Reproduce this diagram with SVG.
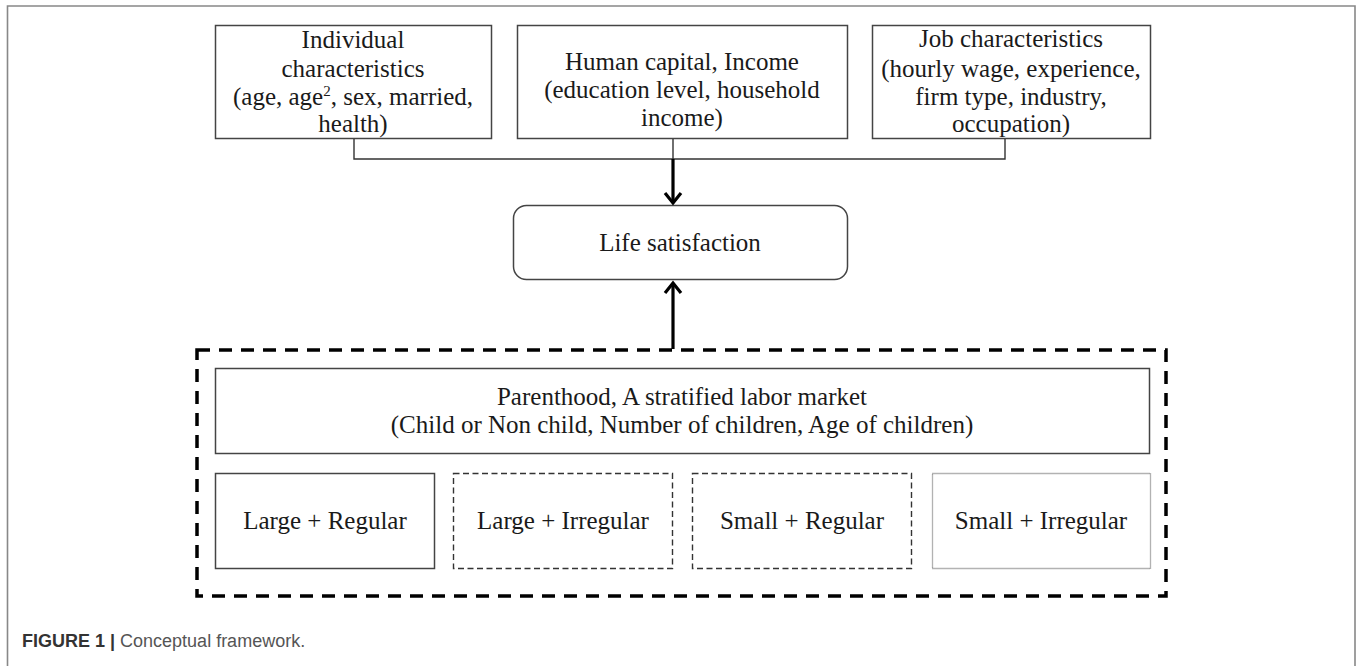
<svg xmlns="http://www.w3.org/2000/svg" width="1357" height="666" viewBox="0 0 1357 666">
<style>
.box{fill:#fff;stroke:#444;stroke-width:1.5}
.dash{fill:#fff;stroke:#333;stroke-width:1.4;stroke-dasharray:6 3.5}
.dot{fill:#fff;stroke:#666;stroke-width:1.3;stroke-dasharray:1 1}
.t{font-family:"Liberation Serif","Times New Roman",serif;font-size:25px;fill:#1a1a1a;text-anchor:middle}
.thin{fill:none;stroke:#333;stroke-width:1.4}
.thick{fill:none;stroke:#000;stroke-width:3.2}
.cap{font-family:"Liberation Sans",Arial,sans-serif;font-size:18px}
</style>
<path d="M7.5,666 V6 H1355 V666" fill="none" stroke="#888" stroke-width="1.6"/>

<g id="individual">
<rect class="box" x="215.5" y="25.5" width="276" height="113"/>
<text class="t" x="353" y="48">Individual</text>
<text class="t" x="353" y="76.5">characteristics</text>
<text class="t" x="353" y="104.5">(age, age<tspan dy="-9" font-size="15">2</tspan><tspan dy="9">, sex, married,</tspan></text>
<text class="t" x="353" y="132">health)</text>
</g>

<g id="human-capital">
<rect class="box" x="517.5" y="25.5" width="330" height="113"/>
<text class="t" x="682" y="70">Human capital, Income</text>
<text class="t" x="682" y="98">(education level, household</text>
<text class="t" x="682" y="126">income)</text>
</g>

<g id="job">
<rect class="box" x="872.5" y="25.5" width="278" height="113"/>
<text class="t" x="1011" y="47">Job characteristics</text>
<text class="t" x="1011" y="77">(hourly wage, experience,</text>
<text class="t" x="1011" y="105">firm type, industry,</text>
<text class="t" x="1011" y="132">occupation)</text>
</g>

<g id="life-satisfaction">
<rect class="box" x="513.5" y="205.5" width="334" height="74" rx="13" ry="13"/>
<text class="t" x="680" y="251">Life satisfaction</text>
</g>

<g id="stratified-group">
<rect x="197" y="350" width="969" height="246" fill="none" stroke="#000" stroke-width="3.5" stroke-dasharray="13 9"/>
</g>

<g id="parenthood">
<rect class="box" x="215.5" y="368.5" width="934" height="85"/>
<text class="t" x="682" y="405">Parenthood, A stratified labor market</text>
<text class="t" x="682" y="433">(Child or Non child, Number of children, Age of children)</text>
</g>

<g id="large-regular">
<rect class="box" x="215.5" y="473.5" width="219" height="95"/>
<text class="t" x="325" y="529">Large + Regular</text>
</g>
<g id="large-irregular">
<rect class="dash" x="453.5" y="473.5" width="219" height="95"/>
<text class="t" x="563" y="529">Large + Irregular</text>
</g>
<g id="small-regular">
<rect class="dash" x="692.5" y="473.5" width="219" height="95"/>
<text class="t" x="802" y="529">Small + Regular</text>
</g>
<g id="small-irregular">
<rect class="dot" x="932.5" y="473.5" width="218" height="95"/>
<text class="t" x="1041" y="529">Small + Irregular</text>
</g>

<g id="connectors">
<path class="thin" d="M354,139 V159 H1005 V139"/>
<path class="thin" d="M673,139 V159"/>
<path class="thick" d="M673,159 V203"/>
<path class="thick" d="M665,193 L673,203 L681,193"/>
<path class="thick" d="M673,349 V283"/>
<path class="thick" d="M665,293 L673,283 L681,293"/>
</g>

<g id="caption">
<text class="cap" x="22" y="647"><tspan font-weight="bold" fill="#333">FIGURE 1 |</tspan><tspan fill="#555"> Conceptual framework.</tspan></text>
</g>
</svg>
